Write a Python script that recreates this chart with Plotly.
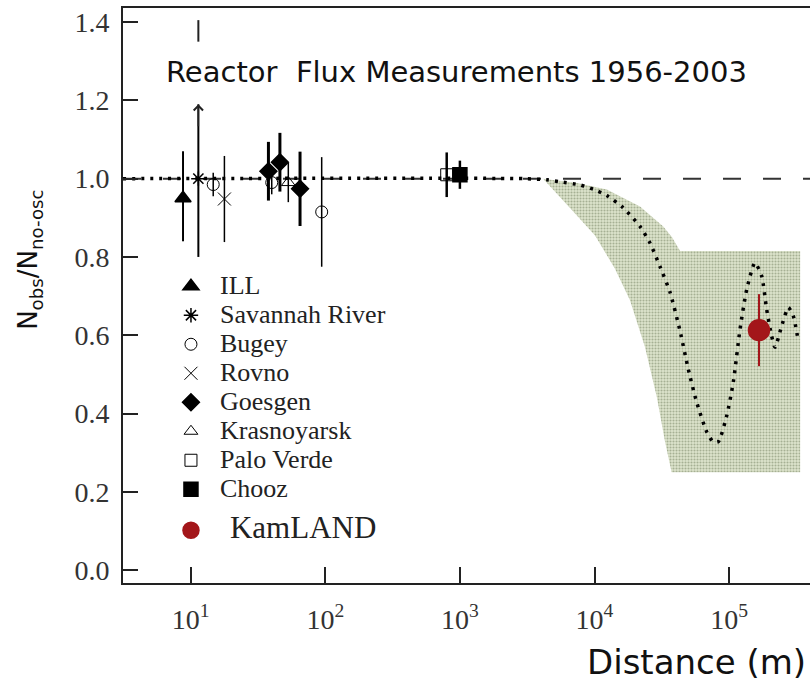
import numpy as np
import plotly.graph_objects as go

# ---------------- data (distance in metres, ratio N_obs/N_no-osc) ----------------
ill_d, ill_r, ill_ep, ill_em = [8.77], [0.95], [0.12], [0.11]
sr_d, sr_r, sr_ep, sr_em = [11.4], [1.0], [0.19], [0.20]
sr_off_lo, sr_off_hi = [1.35], [1.405]
bug_d, bug_r, bug_e = [14.7, 40.0, 94.0], [0.985, 0.99, 0.915], [0.03, 0.03, 0.14]
rov_d, rov_r, rov_e = [17.8], [0.948], [0.11]
goe_d, goe_r, goe_e = [37.8, 46.0, 64.9], [1.019, 1.042, 0.974], [0.075, 0.075, 0.095]
kra_d, kra_r, kra_e = [53.1], [0.99], [0.05]
pv_d, pv_r, pv_e = [798], [1.01], [0.057]
ch_d, ch_r, ch_e = [1000], [1.01], [0.036]
kam_d, kam_r, kam_e = [166700], [0.613], [0.092]

no_osc = 1.0

# best-fit oscillation curve
fit_d = [3.14, 3000, 4436, 5546, 7798, 9795, 12330, 16290, 21780, 25880, 30690, 36390,
         43250, 49770, 57410, 68230, 76380, 83180, 95940, 107400, 120500, 135200,
         155600, 174600, 190100, 207000, 219300, 246000, 275400, 299900, 326600]
fit_r = [1.0, 1.0, 0.997, 0.992, 0.984, 0.973, 0.957, 0.926, 0.878, 0.835, 0.775, 0.71,
         0.61, 0.513, 0.429, 0.353, 0.327, 0.328, 0.394, 0.48, 0.615, 0.717,
         0.785, 0.751, 0.666, 0.598, 0.569, 0.624, 0.671, 0.649, 0.585]

# allowed band
band_up_d = [4150, 7379, 12330, 21780, 32430, 37670, 43250, 337300]
band_up_r = [1.0, 0.989, 0.972, 0.929, 0.878, 0.85, 0.815, 0.815]
band_lo_d = [4150, 6577, 10090, 14190, 18320, 23710, 29110, 33340, 37410, 337300]
band_lo_r = [1.0, 0.925, 0.855, 0.77, 0.69, 0.57, 0.44, 0.33, 0.25, 0.25]

x_ticks = [10, 100, 1000, 10000, 100000]
x_ticktext = ["10<sup>1</sup>", "10<sup>2</sup>", "10<sup>3</sup>", "10<sup>4</sup>", "10<sup>5</sup>"]
y_ticks = [0.0, 0.2, 0.4, 0.6, 0.8, 1.0, 1.2, 1.4]

fig = go.Figure()

# band
fig.add_trace(go.Scatter(
    x=band_up_d + band_lo_d[::-1], y=band_up_r + band_lo_r[::-1],
    mode="lines", fill="toself", fillcolor="#c9d1b4",
    fillpattern=dict(shape=".", fgcolor="#6f7c5c", bgcolor="#dde4cc", size=3, solidity=0.4),
    line=dict(width=0), showlegend=False, hoverinfo="skip"))

# curve
fig.add_trace(go.Scatter(
    x=fit_d, y=fit_r, mode="lines", line=dict(color="black", width=3.5, dash="3px,6px",
                                              shape="spline", smoothing=0.6),
    showlegend=False, hoverinfo="skip"))

# off-scale segment for Savannah River
fig.add_trace(go.Scatter(
    x=sr_d * 2, y=sr_off_lo + sr_off_hi, mode="lines",
    line=dict(color="#222", width=2), showlegend=False, hoverinfo="skip"))

serif = "Liberation Serif, Times New Roman, serif"
LSPAN = '\u00a0<span style="font-family:Liberation Serif, serif; font-size:26px">%s</span>'


def pts(name, d, r, ep, em, symbol, size, thick, color="black", lw=1.5, fill=None, group="a"):
    fig.add_trace(go.Scatter(
        x=d, y=r, mode="markers", name=name, legendgroup=group,
        marker=dict(symbol=symbol, size=size, color=color if fill is None else fill,
                    line=dict(color=color, width=lw)),
        error_y=dict(type="data", symmetric=False, array=ep, arrayminus=em,
                     thickness=thick, width=0, color=color)))


pts(LSPAN % "ILL", ill_d, ill_r, ill_ep, ill_em, "triangle-up", 14, 2)
pts(LSPAN % "Savannah River", sr_d, sr_r, sr_ep, sr_em, "asterisk-open", 12, 2)
pts(LSPAN % "Bugey", bug_d, bug_r, bug_e, bug_e, "circle-open", 12, 1.5, lw=1)
pts(LSPAN % "Rovno", rov_d, rov_r, rov_e, rov_e, "x-thin-open", 13, 1.5, lw=1)
pts(LSPAN % "Goesgen", goe_d, goe_r, goe_e, goe_e, "diamond", 13, 3)
pts(LSPAN % "Krasnoyarsk", kra_d, kra_r, kra_e, kra_e, "triangle-up-open", 12, 1.5, lw=1)
pts(LSPAN % "Palo Verde", pv_d, pv_r, pv_e, pv_e, "square-open", 12, 2.5, lw=1)
pts(LSPAN % "Chooz", ch_d, ch_r, ch_e, ch_e, "square", 14, 2.5)
pts('\u00a0\u00a0\u00a0<span style="font-family:Liberation Serif, serif; font-size:31px">KamLAND</span>',
    kam_d, kam_r, kam_e, kam_e, "circle", 21, 2, color="#a3161a", group="b")

# arrow head on the Savannah River bar
lx = float(np.log10(sr_d[0]))
fig.add_annotation(x=lx, y=sr_r[0] + sr_ep[0], ax=lx, ay=sr_r[0] + sr_ep[0] - 0.06,
                   xref="x", yref="y", axref="x", ayref="y", text="", showarrow=True,
                   arrowhead=4, arrowsize=1.2, arrowwidth=1.5, arrowcolor="#222")

fig.add_hline(y=no_osc, line=dict(color="#333", width=2, dash="18px,22px"), layer="below")

sans = "DejaVu Sans, Arial, sans-serif"
fig.add_annotation(text="Reactor\u00a0 Flux Measurements 1956-2003", xref="paper", yref="paper",
                   x=0.4854, y=0.889, xanchor="center", yanchor="middle", showarrow=False,
                   font=dict(family=sans, size=29, color="#111"))
fig.add_annotation(text="Distance (m)", xref="paper", yref="paper",
                   x=0.997, y=-0.137, xanchor="right", yanchor="middle", showarrow=False,
                   font=dict(family=sans, size=34, color="#111"))
fig.add_annotation(text="N<sub>obs</sub>/N<sub>no-osc</sub>", xref="paper", yref="paper",
                   x=-0.1354, y=0.562, xanchor="center", yanchor="middle", showarrow=False,
                   textangle=-90, font=dict(family=sans, size=26, color="#111"))

fig.update_layout(
    width=810, height=684, margin=dict(l=123, r=0, t=8, b=101),
    paper_bgcolor="white", plot_bgcolor="white",
    showlegend=True,
    legend=dict(x=0.064, y=0.550, xanchor="left", yanchor="top", bgcolor="rgba(0,0,0,0)",
                font=dict(family=serif, size=20, color="#222"), itemwidth=38,
                itemsizing="trace", tracegroupgap=12, traceorder="grouped"),
)
fig.update_xaxes(type="log", range=[0.497, 5.601], tickvals=x_ticks, ticktext=x_ticktext,
                 ticks="inside", ticklen=16, tickwidth=1.5, tickcolor="#222",
                 showline=True, linecolor="#222", linewidth=2, mirror=True,
                 showgrid=False, zeroline=False, ticklabelstandoff=10,
                 tickfont=dict(family=serif, size=28, color="#333"))
fig.update_yaxes(range=[-0.033, 1.436], tickvals=y_ticks, tickformat=".1f",
                 ticks="inside", ticklen=15, tickwidth=1.5, tickcolor="#222",
                 showline=True, linecolor="#222", linewidth=2, mirror=False,
                 showgrid=False, zeroline=False, ticklabelstandoff=6,
                 tickfont=dict(family=serif, size=28, color="#333"))

fig.write_html("out.html")
